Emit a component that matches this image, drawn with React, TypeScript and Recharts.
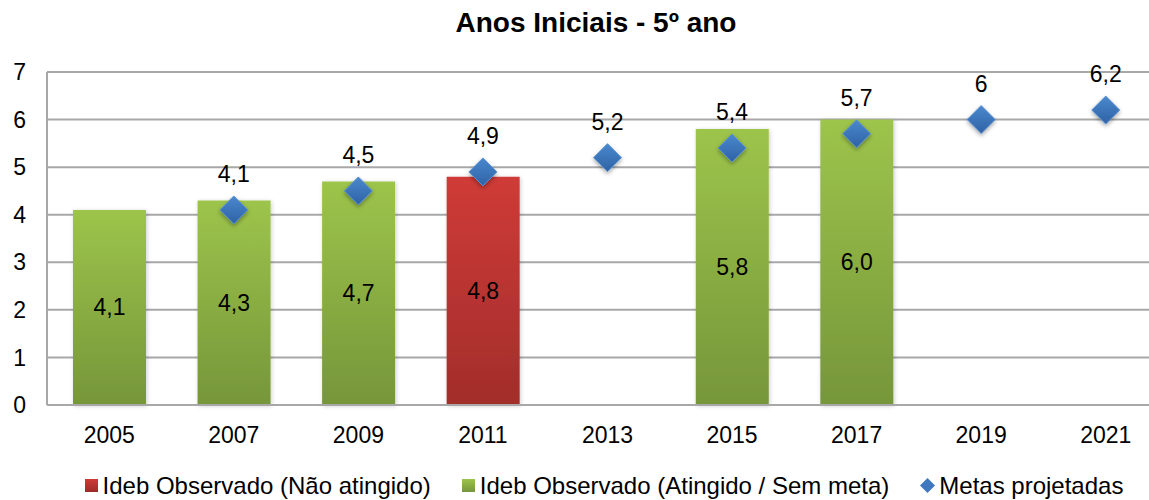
import React from 'react';
import { ComposedChart, Bar, Line, XAxis, YAxis, CartesianGrid, Legend, LabelList } from 'recharts';

// Dados do gráfico
const anos = ['2005', '2007', '2009', '2011', '2013', '2015', '2017', '2019', '2021'];
const naoAtingido = [null, null, null, 4.8, null, null, null, null, null];
const atingido = [4.1, 4.3, 4.7, null, null, 5.8, 6.0, null, null];
const metas = [null, 4.1, 4.5, 4.9, 5.2, 5.4, 5.7, 6, 6.2];
const yTicks = [0, 1, 2, 3, 4, 5, 6, 7];

const data = anos.map((ano, i) => ({
  ano,
  naoAtingido: naoAtingido[i],
  atingido: atingido[i],
  metas: metas[i],
}));

const FONT = '"Liberation Sans", Arial, sans-serif';

const fmtObs = (v: number) => v.toFixed(1).replace('.', ',');
const fmtMeta = (v: number) => String(v).replace('.', ',');

// rótulo dentro da barra
const BarLabel = (props: any) => {
  const { x, y, width, height, value, index } = props;
  if (value == null || value === 0) return null;
  const lift = anos[index] === '2017' ? 19 : 0; // o 6,0 fica um pouco mais alto no original
  return (
    <text
      x={x + width / 2}
      y={y + height / 2 - lift}
      textAnchor="middle"
      dominantBaseline="central"
      fontSize={23}
      fontFamily={FONT}
      fill="#000"
    >
      {fmtObs(value)}
    </text>
  );
};

const MetaLabel = (props: any) => {
  const { x, y, value } = props;
  if (value == null) return null;
  return (
    <text x={x} y={y - 36} textAnchor="middle" dominantBaseline="central" fontSize={23} fontFamily={FONT} fill="#000">
      {fmtMeta(value)}
    </text>
  );
};

const Diamond = (props: any) => {
  const { cx, cy, value } = props;
  if (value == null || cx == null || cy == null) return <g />;
  const r = 14;
  return (
    <polygon
      points={`${cx},${cy - r} ${cx + r},${cy} ${cx},${cy + r} ${cx - r},${cy}`}
      fill="url(#gradMeta)"
      stroke="#5C93D3"
      strokeWidth={1}
      filter="url(#sombra)"
    />
  );
};

const LegendContent = () => {
  const item: React.CSSProperties = { display: 'flex', alignItems: 'center', lineHeight: '24px' };
  const sq = (bg: string): React.CSSProperties => ({ width: 13, height: 13, background: bg, marginRight: 5 });
  return (
    <div
      style={{
        height: 45,
        boxSizing: 'border-box',
        paddingTop: 16,
        paddingLeft: 40,
        display: 'flex',
        justifyContent: 'center',
        fontFamily: FONT,
        fontSize: 24,
        color: '#000',
      }}
    >
      <div style={{ ...item, marginRight: 31 }}>
        <span style={sq('linear-gradient(#CE3B37, #9E2B2A)')} />
        Ideb Observado (Não atingido)
      </div>
      <div style={{ ...item, marginRight: 30 }}>
        <span style={sq('linear-gradient(#9DC44B, #76963A)')} />
        Ideb Observado (Atingido / Sem meta)
      </div>
      <div style={item}>
        <svg width={17} height={17} style={{ marginRight: 3 }}>
          <polygon points="8.5,1 16,8.5 8.5,16 1,8.5" fill="#3F78BE" />
        </svg>
        Metas projetadas
      </div>
    </div>
  );
};

export default function App() {
  return (
    <div style={{ position: 'absolute', left: 0, top: 0, width: 1149, height: 500, overflow: 'hidden', background: '#fff' }}>
      <div
        style={{
          position: 'absolute',
          left: 0,
          top: 9,
          width: 1192,
          textAlign: 'center',
          fontFamily: FONT,
          fontWeight: 'bold',
          fontSize: 28,
          lineHeight: '28px',
          color: '#000',
        }}
      >
        Anos Iniciais - 5º ano
      </div>
      <ComposedChart width={1192} height={500} data={data} margin={{ top: 72, right: 24, left: 0, bottom: 0 }}>
        <defs>
          <linearGradient id="gradVerde" x1="0" y1="0" x2="0" y2="1">
            <stop offset="0%" stopColor="#9DC44B" />
            <stop offset="100%" stopColor="#76963A" />
          </linearGradient>
          <linearGradient id="gradVermelho" x1="0" y1="0" x2="0" y2="1">
            <stop offset="0%" stopColor="#CF3B37" />
            <stop offset="100%" stopColor="#A22D2B" />
          </linearGradient>
          <linearGradient id="gradMeta" x1="0" y1="0" x2="0" y2="1">
            <stop offset="0%" stopColor="#4A88CC" />
            <stop offset="100%" stopColor="#2F62A6" />
          </linearGradient>
          <filter id="sombra" x="-50%" y="-50%" width="200%" height="200%">
            <feDropShadow dx="0" dy="2" stdDeviation="2" floodColor="#000" floodOpacity="0.35" />
          </filter>
          <filter id="sombraBarra" x="-20%" y="-10%" width="140%" height="120%">
            <feDropShadow dx="1" dy="1" stdDeviation="2" floodColor="#000" floodOpacity="0.2" />
          </filter>
        </defs>
        <CartesianGrid vertical={false} stroke="#A8A8A8" strokeWidth={2} />
        <XAxis
          dataKey="ano"
          height={50}
          tickLine={false}
          tickSize={0}
          tickMargin={22}
          axisLine={{ stroke: '#A8A8A8', strokeWidth: 2 }}
          tick={{ fontSize: 23, fontFamily: FONT, fill: '#000' }}
          interval={0}
        />
        <YAxis
          width={47}
          domain={[0, 7]}
          ticks={yTicks}
          tickLine={false}
          tickSize={0}
          tickMargin={21}
          axisLine={{ stroke: '#A8A8A8', strokeWidth: 2 }}
          tick={{ fontSize: 23, fontFamily: FONT, fill: '#000' }}
        />
        <Legend verticalAlign="bottom" content={<LegendContent />} />
        <Bar
          dataKey="naoAtingido"
          name="Ideb Observado (Não atingido)"
          stackId="obs"
          barSize={73}
          fill="url(#gradVermelho)"
          filter="url(#sombraBarra)"
          isAnimationActive={false}
        >
          <LabelList dataKey="naoAtingido" content={<BarLabel />} />
        </Bar>
        <Bar
          dataKey="atingido"
          name="Ideb Observado (Atingido / Sem meta)"
          stackId="obs"
          barSize={73}
          fill="url(#gradVerde)"
          filter="url(#sombraBarra)"
          isAnimationActive={false}
        >
          <LabelList dataKey="atingido" content={<BarLabel />} />
        </Bar>
        <Line
          dataKey="metas"
          name="Metas projetadas"
          stroke="none"
          dot={<Diamond />}
          activeDot={false}
          isAnimationActive={false}
        >
          <LabelList dataKey="metas" content={<MetaLabel />} />
        </Line>
      </ComposedChart>
    </div>
  );
}
